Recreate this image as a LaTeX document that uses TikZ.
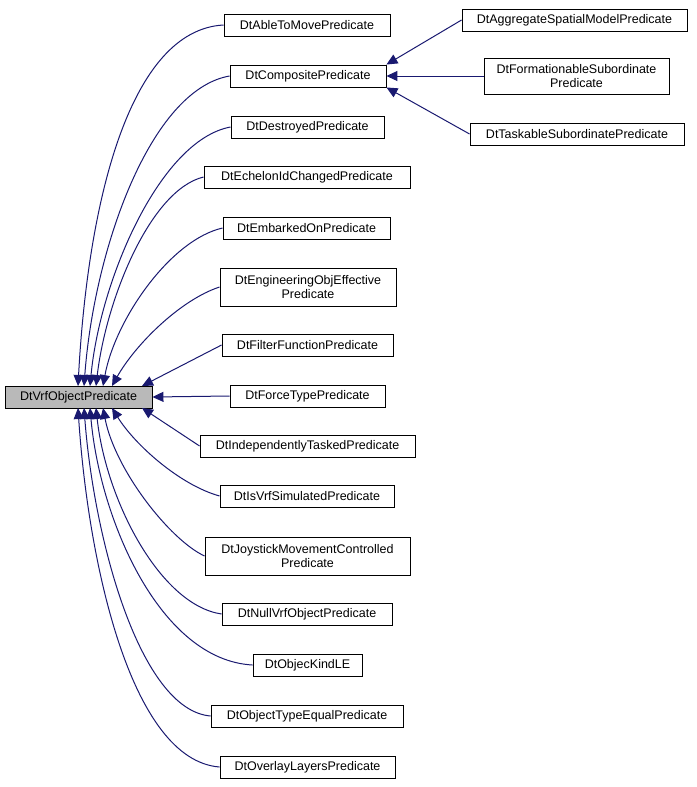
\documentclass[tikz,border=0pt]{standalone}
\usepackage{fontspec}
\setmainfont{Liberation Sans}
\usetikzlibrary{arrows.meta}
\begin{document}
\begin{tikzpicture}[x=1pt,y=-1pt,
  cls/.style={draw=black,line width=0.9pt,fill=white,font=\fontsize{12.5}{14}\selectfont,inner sep=0pt,align=center,text=black},
  edge/.style={draw={rgb,255:red,25;green,25;blue,112},line width=1pt,-{Triangle[length=11pt,width=10pt]}}]
\useasboundingbox (0,0) rectangle (696,787);
% root class
\node[cls,fill=gray!55,minimum width=147,minimum height=22] (vrf) at (78.5,397) {DtVrfObjectPredicate};
% middle column: name/text/centre x/centre y/width/height
\foreach \n/\t/\x/\y/\w/\h in {
  able/DtAbleToMovePredicate/307/25/166/22,
  comp/DtCompositePredicate/308/76/156/22,
  destr/DtDestroyedPredicate/307.5/127/153/22,
  echel/DtEchelonIdChangedPredicate/307/177/206/22,
  emb/DtEmbarkedOnPredicate/306.5/228/167/22,
  eng/{DtEngineeringObjEffective\\Predicate}/308/287/176/38,
  filt/DtFilterFunctionPredicate/307.5/345/171/22,
  force/DtForceTypePredicate/307.5/396/155/22,
  indep/DtIndependentlyTaskedPredicate/307.5/446/215/22,
  isvrf/DtIsVrfSimulatedPredicate/307/496/174/22,
  joy/{DtJoystickMovementControlled\\Predicate}/307.5/556/205/38,
  null/DtNullVrfObjectPredicate/307/614/170/22,
  kind/DtObjecKindLE/307.5/665/109/22,
  otype/DtObjectTypeEqualPredicate/307/716/192/22,
  overl/DtOverlayLayersPredicate/307.5/767/175/22}
  \node[cls,minimum width=\w,minimum height=\h] (\n) at (\x,\y) {\t};
% right column
\node[cls,minimum width=225,minimum height=22] (aggr) at (574.5,20) {DtAggregateSpatialModelPredicate};
\node[cls,minimum width=185,minimum height=36] (form) at (576.5,76) {DtFormationableSubordinate\\Predicate};
\node[cls,minimum width=214,minimum height=22] (task) at (577,134) {DtTaskableSubordinatePredicate};
% inheritance edges
\draw[edge] (aggr.west) -- (comp.north east);
\draw[edge] (form.west) -- (comp.east);
\draw[edge] (task.west) -- (comp.south east);
\draw[edge] (able.west) .. controls (130,30) and (88,200) .. (78,386);
\draw[edge] (comp.west) .. controls (150,90) and (94,250) .. (84,386);
\draw[edge] (destr.west) .. controls (160,140) and (100,280) .. (90,386);
\draw[edge] (echel.west) .. controls (150,190) and (106,300) .. (96,386);
\draw[edge] (emb.west) .. controls (170,240) and (115,320) .. (103,386);
\draw[edge] (eng.west) .. controls (180,300) and (135,345) .. (112,386);
\draw[edge] (filt.west) -- (142,386);
\draw[edge] (force.west) -- (vrf.east);
\draw[edge] (indep.west) -- (142,408);
\draw[edge] (isvrf.west) .. controls (180,485) and (135,445) .. (112,408);
\draw[edge] (joy.west) .. controls (170,540) and (115,470) .. (103,408);
\draw[edge] (null.west) .. controls (160,605) and (106,500) .. (96,408);
\draw[edge] (kind.west) .. controls (160,660) and (100,520) .. (90,408);
\draw[edge] (otype.west) .. controls (140,710) and (94,540) .. (84,408);
\draw[edge] (overl.west) .. controls (130,760) and (88,560) .. (78,408);
\end{tikzpicture}
\end{document}
